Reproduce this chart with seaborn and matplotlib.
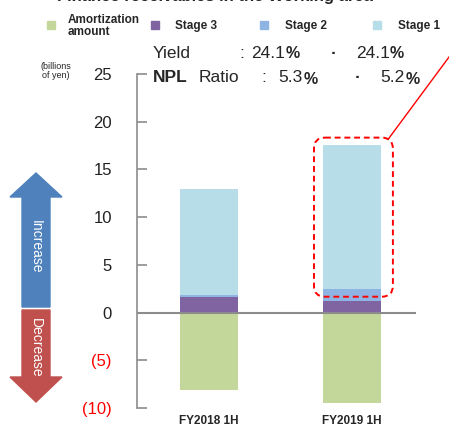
import numpy as np
import pandas as pd
import matplotlib
matplotlib.use("Agg")
import matplotlib.pyplot as plt
import seaborn as sns
from matplotlib.patches import Rectangle, Polygon, FancyBboxPatch

# data (billions of yen)
periods = ["FY2018 1H", "FY2019 1H"]
stage3 = [1.6, 1.2]
stage2 = [0.2, 1.3]
stage1 = [11.1, 15.1]
amortization = [-8.1, -9.5]
yields = ["24.1", "24.1"]
npl_ratio = ["5.3", "5.2"]
series_names = ["Amortization\namount", "Stage 3", "Stage 2", "Stage 1"]
colors = ["#c4d79b", "#8064a2", "#8db4e2", "#b7dde8"]
yticks = [-10, -5, 0, 5, 10, 15, 20, 25]

sns.set_style("white")
plt.rcParams["font.family"] = ["Liberation Sans", "DejaVu Sans"]

W, H = 449, 429
fig = plt.figure(figsize=(W / 100, H / 100), dpi=100)
ax = fig.add_axes([137 / W, 21 / H, 279 / W, 334 / H])

# stacked bars drawn back to front with cumulative heights
df = pd.DataFrame({"period": periods, "s3": stage3, "s2": stage2,
                   "s1": stage1, "amort": amortization})
df["cum3"] = df["s3"]
df["cum2"] = df["s3"] + df["s2"]
df["cum1"] = df["cum2"] + df["s1"]
bw = 0.405
for col, c in [("cum1", colors[3]), ("cum2", colors[2]),
               ("cum3", colors[1]), ("amort", colors[0])]:
    sns.barplot(data=df, x="period", y=col, color=c, width=bw,
                saturation=1, ax=ax, linewidth=0, errorbar=None)

ax.set_xlim(-0.503, 1.448)
ax.set_ylim(-10, 25)
ax.set_yticks(yticks)
ax.set_yticklabels([str(t) if t >= 0 else "(%d)" % -t for t in yticks],
                   fontsize=12)
for lab, t in zip(ax.get_yticklabels(), yticks):
    lab.set_color("red" if t < 0 else "#222222")
ax.tick_params(axis="y", direction="in", length=7, width=1.2,
               color="#8c8c8c", pad=18, left=True)
ax.tick_params(axis="x", length=0, pad=5)
ax.set_xticks([0, 1])
ax.set_xticklabels(periods, fontsize=8.5, fontweight="bold")
ax.set_xlabel("")
ax.set_ylabel("")
for s in ["top", "right", "bottom"]:
    ax.spines[s].set_visible(False)
ax.spines["left"].set_color("#8c8c8c")
ax.spines["left"].set_linewidth(1.2)
ax.axhline(0, color="#8c8c8c", lw=1.5, zorder=5)

# overlay in pixel coordinates for decorations
ov = fig.add_axes([0, 0, 1, 1], zorder=10)
ov.set_xlim(0, W)
ov.set_ylim(H, 0)
ov.axis("off")
ov.patch.set_alpha(0)


def to_px(x, y):
    dx, dy = ax.transData.transform((x, y))
    return dx, H - dy


# red dashed highlight around FY2019 stage 1 + 2 (pixel-rounded corners)
x0, y_top = to_px(1 - bw / 2, df["cum1"][1])
x1, y_bot = to_px(1 + bw / 2, df["cum2"][1])
bx0, bx1 = x0 - 9, x1 + 12
by0, by1 = y_top - 7, y_bot + 8
ov.add_patch(FancyBboxPatch((bx0, by0), bx1 - bx0, by1 - by0,
                            boxstyle="round,pad=0,rounding_size=11",
                            fill=False, ec="red", ls=(0, (3, 2)), lw=1.4))
ov.plot([bx1 - 5, 452], [by0 + 2, 53], color="red", lw=1)

# title (cut off at top)
ov.text(215, -4, "Finance receivables in the Working area", ha="center",
        va="center", fontsize=12, fontweight="bold")

# legend
sq_x = [47, 151, 260, 373]
txt_x = [68, 175, 285, 398]
for xs, xt, name, c in zip(sq_x, txt_x, series_names, colors):
    ov.add_patch(Rectangle((xs, 21), 8, 8, color=c))
    ov.text(xt, 26, name, fontsize=8.5, fontweight="bold", va="center",
            ha="left", linespacing=1.05)

# yield / NPL text
fs = 12.5
ov.text(153, 53, "Yield", fontsize=fs, va="center")
ov.text(239, 53, ":", fontsize=fs, va="center")
ov.text(251, 53, yields[0], fontsize=fs, va="center")
ov.text(331, 53, "\u00b7", fontsize=fs, va="center", fontweight="bold")
ov.text(356, 53, yields[1], fontsize=fs, va="center")
ov.text(153, 78, "NPL", fontsize=fs, va="center", fontweight="bold")
ov.text(199, 78, "Ratio", fontsize=fs, va="center")
ov.text(261, 78, ":", fontsize=fs, va="center")
ov.text(278, 78, npl_ratio[0], fontsize=fs, va="center")
ov.text(355, 78, "\u00b7", fontsize=fs, va="center", fontweight="bold")
ov.text(380, 78, npl_ratio[1], fontsize=fs, va="center")
for x, y in [(286, 54), (390, 54), (304, 79), (406, 79)]:
    ov.text(x, y, "%", fontsize=11.5, va="center", fontweight="bold")

ov.text(56, 71, "(billions\nof yen)", fontsize=6.5, ha="center",
        va="center", linespacing=1.0)

# increase / decrease arrows
ov.add_patch(Polygon([(22, 307), (22, 197), (10, 197), (36, 173), (62, 197),
                      (50, 197), (50, 307)], color="#4f81bd"))
ov.add_patch(Polygon([(22, 310), (22, 377), (10, 377), (36, 402), (62, 377),
                      (50, 377), (50, 310)], color="#c0504d"))
ov.text(36, 247, "Increase", rotation=-90, color="white", fontsize=10,
        ha="center", va="center")
ov.text(36, 348, "Decrease", rotation=-90, color="white", fontsize=10,
        ha="center", va="center")

fig.savefig("out.png", dpi=100)
